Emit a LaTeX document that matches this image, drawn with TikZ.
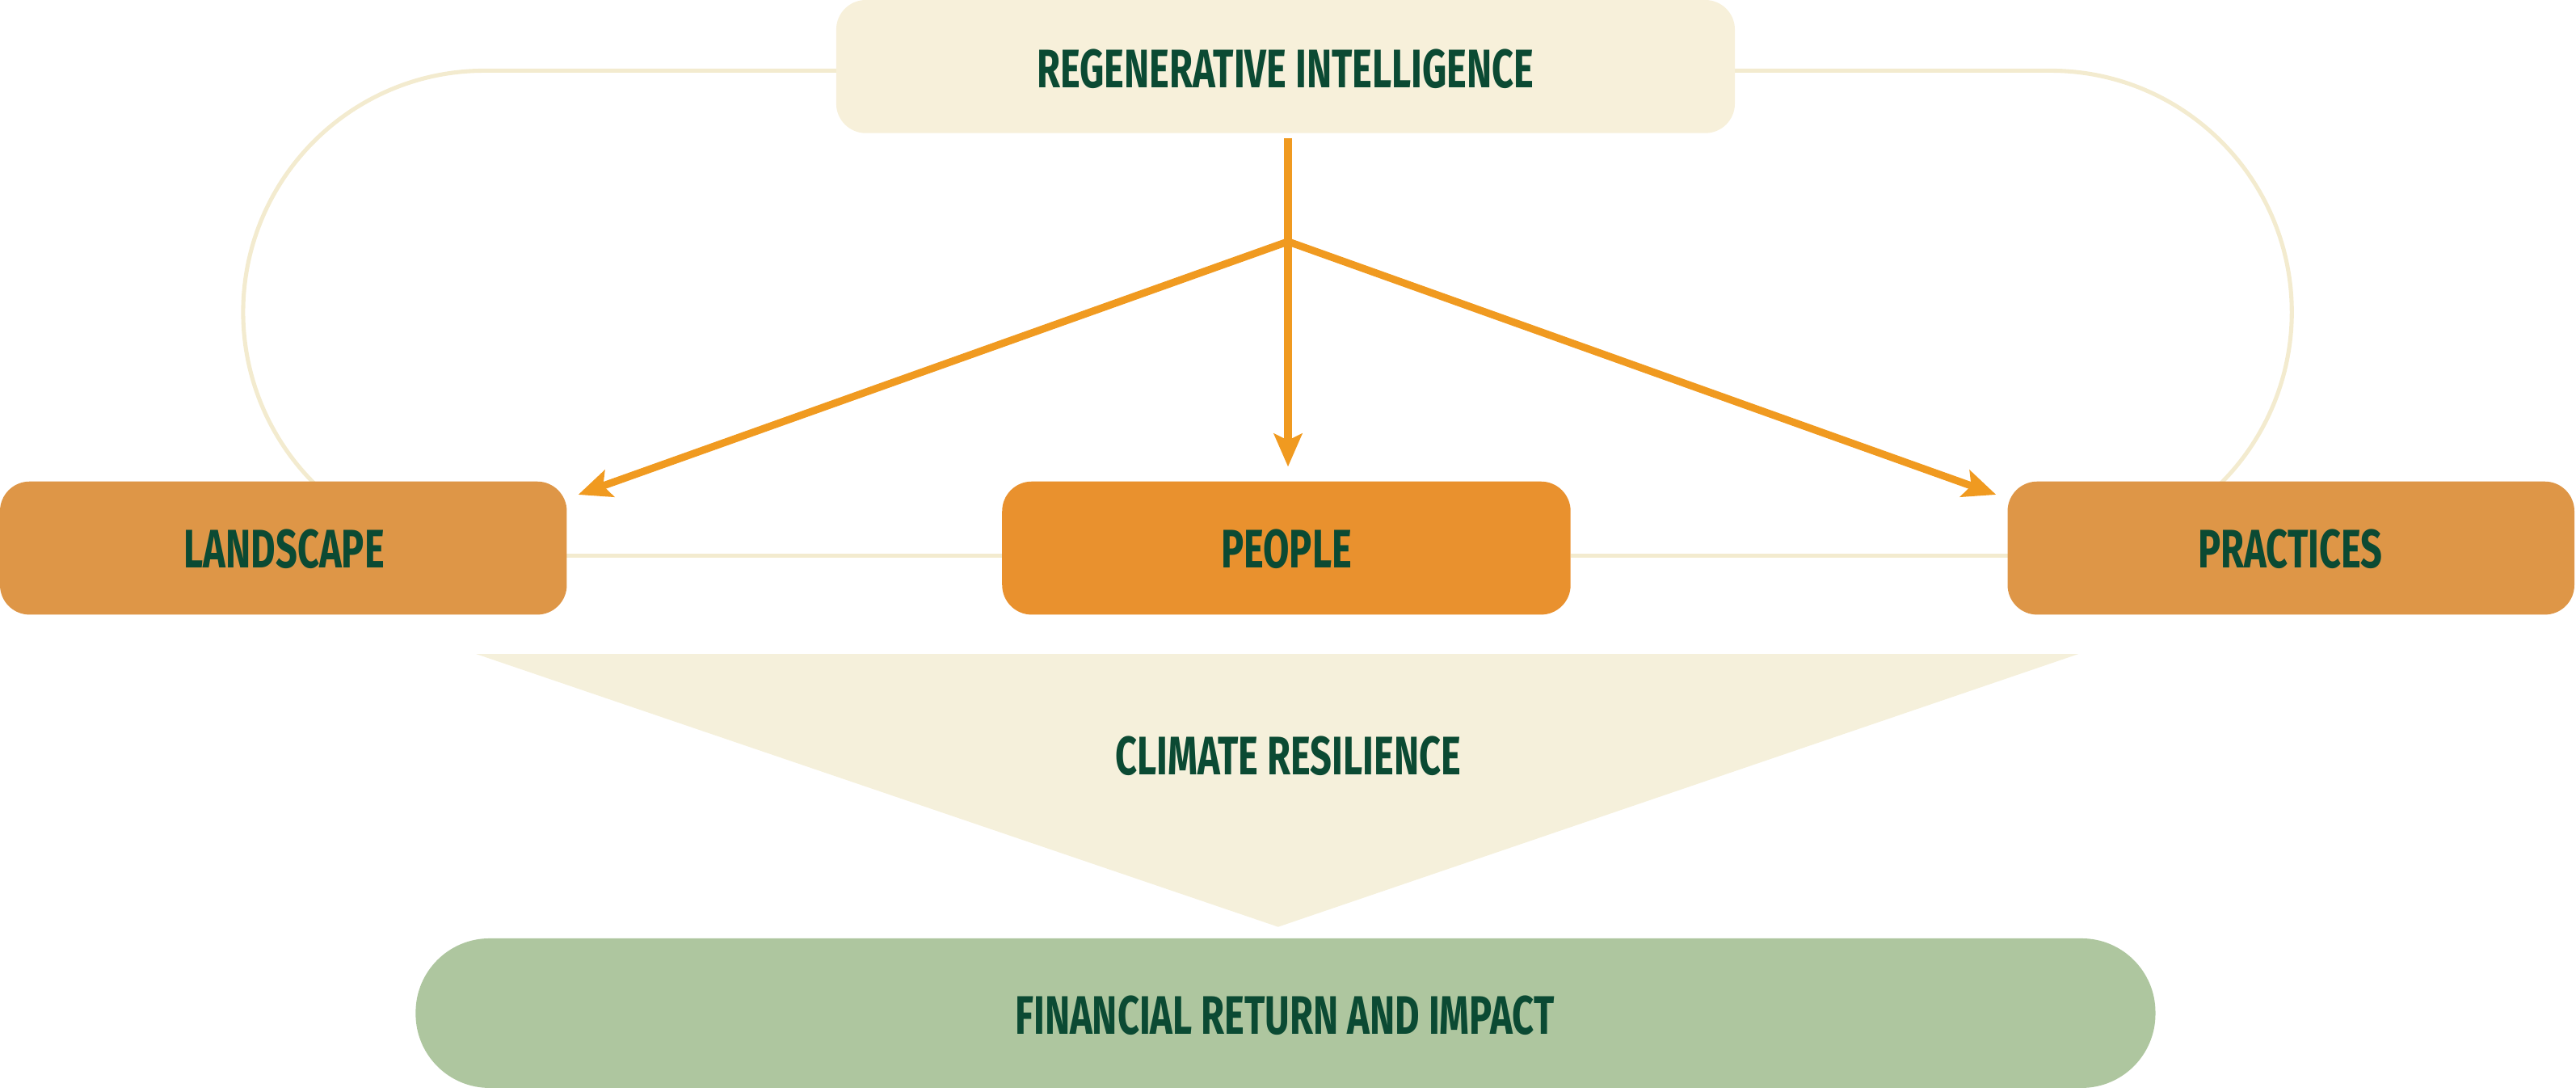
\documentclass[tikz,border=0pt]{standalone}
\usepackage{fontspec}
\setmainfont{Fira Sans}
\usetikzlibrary{arrows.meta}
\definecolor{cream}{HTML}{F7F0DA}
\definecolor{creamline}{HTML}{F3EBCF}
\definecolor{tri}{HTML}{F5F0DB}
\definecolor{ltan}{HTML}{DE9647}
\definecolor{ppl}{HTML}{E9912E}
\definecolor{arr}{HTML}{F09A20}
\definecolor{dgreen}{HTML}{0B4A33}
\definecolor{sage}{HTML}{AEC69F}
\newcommand{\lbl}[1]{\scalebox{0.7}[1]{\fontsize{33}{33}\selectfont\bfseries #1}}
\begin{document}
\begin{tikzpicture}[x=1pt,y=-1pt,
  box/.style={rounded corners=18pt,text=dgreen,inner sep=0pt},
  loop/.style={draw=creamline,line width=2.5pt},
  oarr/.style={draw=arr,line width=4.5pt,-{Stealth[length=20pt,width=17pt,inset=4pt]}}]
\useasboundingbox (0,0) rectangle (1568,664);
% loop lines
\draw[loop] (509,43) -- (295,43) arc[start angle=-90,end angle=-225,radius=147];
\draw[loop] (1056,43) -- (1248,43) arc[start angle=-90,end angle=45,radius=147];
\draw[loop] (345,338) -- (610,338);
\draw[loop] (956,338) -- (1222,338);
% triangle
\fill[tri] (290,398) -- (1265,398) -- (778,564) -- cycle;
\node[text=dgreen] (cr) at (784,460) {\lbl{CLIMATE RESILIENCE}};
% boxes
\path[box,fill=cream] (509,0) rectangle (1056,81);
\node[text=dgreen] (ri) at (782.5,42) {\lbl{REGENERATIVE INTELLIGENCE}};
\path[box,fill=ltan] (0,293) rectangle (345,374);
\node[text=dgreen] (la) at (173,334) {\lbl{LANDSCAPE}};
\path[box,fill=ppl] (610,293) rectangle (956,374);
\node[text=dgreen] (pe) at (783,334) {\lbl{PEOPLE}};
\path[box,fill=ltan] (1222,293) rectangle (1567,374);
\node[text=dgreen] (pr) at (1394,334) {\lbl{PRACTICES}};
\path[fill=sage,rounded corners=45pt] (253,571) rectangle (1312,662);
\node[text=dgreen] (fi) at (782,618) {\lbl{FINANCIAL RETURN AND IMPACT}};
% arrows
\coordinate (top) at (784,84);
\coordinate (hub) at (784,147);
\coordinate (pa) at (784,284);
\coordinate (la2) at (352,301);
\coordinate (pr2) at (1215,301);
\draw[oarr] (top) -- (pa);
\draw[oarr] (hub) -- (la2);
\draw[oarr] (hub) -- (pr2);
\end{tikzpicture}
\end{document}
